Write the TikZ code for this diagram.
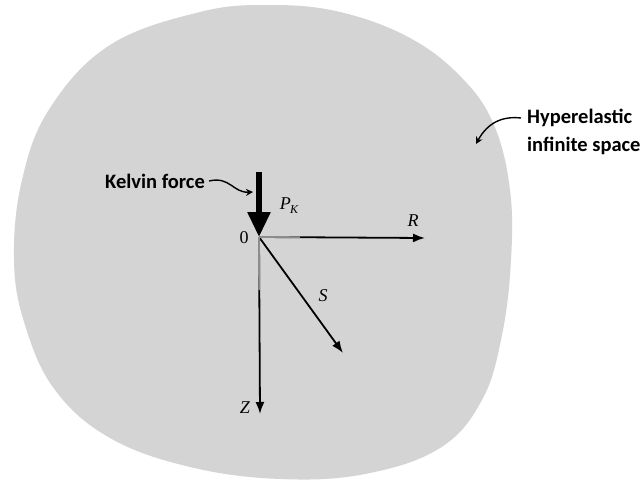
\documentclass[tikz,border=0pt]{standalone}
\usepackage{fontspec}
\setsansfont{Carlito}
\newfontfamily\labelfont{Liberation Serif}
\usepackage{tikz}
\usetikzlibrary{arrows.meta,positioning}

\begin{document}
\begin{tikzpicture}[
  x=1pt, y=-1pt, >=Latex,
  callout/.style={font=\sffamily\bfseries\fontsize{20.5}{28}\selectfont, inner sep=0pt},
  sym/.style={font=\labelfont\itshape\fontsize{18}{20}\selectfont, inner sep=1pt},
  axis/.style={->, line width=1.8pt, >={Latex[length=12pt,width=9pt]}},
  stub/.style={line width=1.8pt, black!45},
  pointer/.style={->, line width=1.4pt, >={Stealth[length=7pt,width=7pt]}},
]
\useasboundingbox (0,0) rectangle (641,482);
\fill[white] (0,0) rectangle (641,482);
% ---- the body
\fill[black!17] plot[smooth cycle, tension=0.65] coordinates {
  (110,45) (200,12) (270,5) (340,12) (410,38) (462,78) (494,125)
  (510,190) (511,260) (502,335) (482,400) (440,448) (365,474)
  (280,479) (190,467) (110,438) (55,390) (25,325) (14,260)
  (22,180) (50,108)};
% ---- axes
\coordinate (O) at (259,237);
\coordinate (Rend) at (425,238);
\coordinate (Send) at (343,353);
\coordinate (Zend) at (260,414);
\draw[axis] (O) -- (Rend);
\draw[axis] (O) -- (Send);
\draw[axis] (O) -- (Zend);
\draw[stub] (O) -- (300,237.2);
\draw[stub] (O) -- (259.2,290);
% ---- the point load
\coordinate (Ptop) at (259,172);
\draw[line width=5.5pt, -{Triangle[length=25pt,width=22pt]}] (Ptop) -- (O);
% ---- labels
\node[sym] (zero) at (244,238) {\upshape 0};
\node[sym] (PK) at (289,206) {P\kern-0.5pt\raisebox{-4pt}{\fontsize{12}{12}\selectfont K}};
\node[sym] (lblR) at (413,221) {R};
\node[sym] (lblS) at (323,296) {S};
\node[sym] (lblZ) at (245,408) {Z};
\node[callout, anchor=west] (kelvin) at (105,181) {Kelvin force};
\coordinate (kelvinTo) at (253,192);
\draw[pointer] (kelvin.east) ++(4,0) .. controls (230,176) and (233,193) .. (kelvinTo);
\node[callout, anchor=west, align=left] (hyper) at (527,132) {Hyperelastic\\infinite space};
\coordinate (hyperTo) at (476,144);
\draw[pointer] ([xshift=-6pt,yshift=14pt]hyper.west) .. controls (503,116) and (488,122) .. (hyperTo);
\end{tikzpicture}
\end{document}
